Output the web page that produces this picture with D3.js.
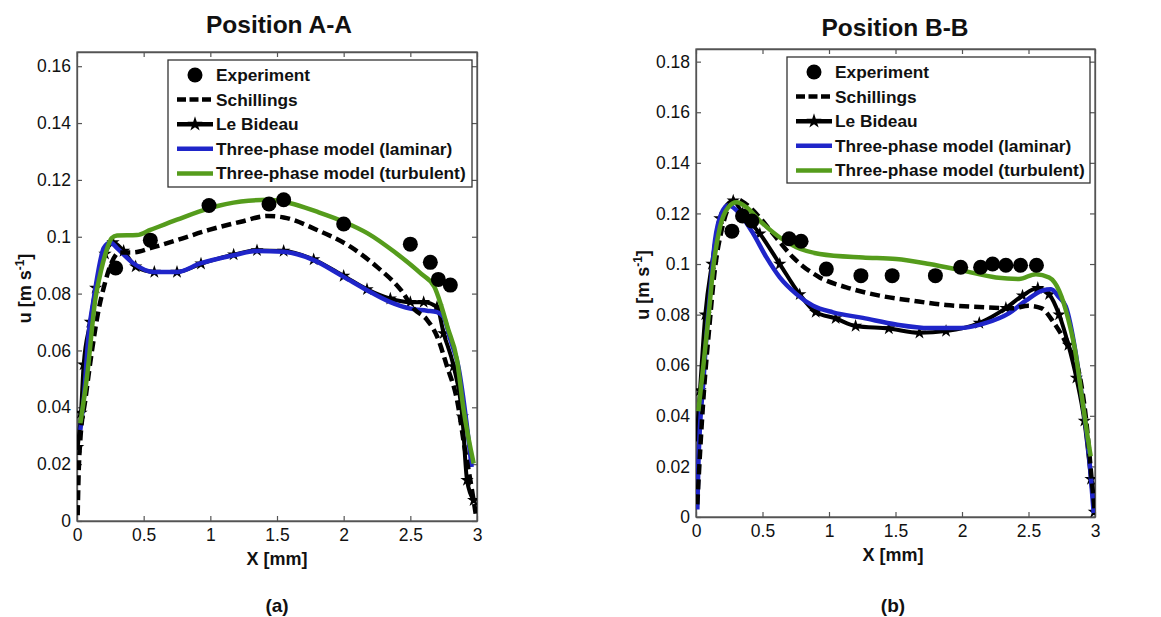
<!DOCTYPE html>
<html>
<head>
<meta charset="utf-8">
<script src="https://cdn.jsdelivr.net/npm/d3@7.9.0/dist/d3.min.js"></script>
<style>
  body { margin: 0; background: #fff; }
  svg text { font-family: "Liberation Sans", Arial, sans-serif; fill: #111; }
</style>
</head>
<body>
<svg id="chart" width="1161" height="617"></svg>
<script>
// ---- data ----
// Position A-A
const expA = [[0.29,0.089],[0.55,0.0988],[0.99,0.111],[1.44,0.1115],[1.55,0.113],[2.0,0.1045],[2.5,0.0974],[2.65,0.091],[2.71,0.085],[2.8,0.083]];
const schA = [[0.005,0.002],[0.0125,0.017],[0.025,0.0285],[0.0625,0.0426],[0.1125,0.06],[0.1625,0.0744],[0.2,0.082],[0.26,0.091],[0.32,0.0945],[0.42,0.0945],[0.55,0.096],[0.75,0.0988],[0.99,0.1024],[1.23,0.1053],[1.43,0.1073],[1.55,0.1068],[1.8,0.1024],[2.05,0.0965],[2.25,0.0894],[2.43,0.0812],[2.53,0.0745],[2.625,0.0708],[2.7,0.065],[2.775,0.0544],[2.85,0.0426],[2.91,0.025],[2.95,0.0144],[2.99,0.0026]];
const bidA = [[0.005,0.026],[0.03,0.038],[0.05,0.055],[0.1,0.07],[0.14,0.082],[0.21,0.094],[0.27,0.098],[0.35,0.095],[0.44,0.0895],[0.58,0.0876],[0.75,0.0876],[0.93,0.0905],[1.175,0.0937],[1.35,0.0952],[1.55,0.095],[1.775,0.092],[2.0,0.0862],[2.175,0.0815],[2.35,0.0782],[2.5,0.077],[2.6,0.077],[2.7,0.0753],[2.75,0.066],[2.825,0.0544],[2.89,0.0367],[2.925,0.0144],[2.975,0.0073]];
const lamA = [[0.025,0.032],[0.05,0.0426],[0.0875,0.066],[0.125,0.078],[0.16,0.088],[0.2,0.096],[0.25,0.098],[0.3,0.096],[0.425,0.0906],[0.575,0.0876],[0.75,0.0876],[0.925,0.0906],[1.175,0.0935],[1.35,0.095],[1.55,0.0947],[1.775,0.0918],[2.0,0.0859],[2.175,0.0812],[2.35,0.077],[2.5,0.0747],[2.625,0.074],[2.7,0.0735],[2.75,0.0718],[2.8,0.0638],[2.86,0.0544],[2.925,0.0332],[2.96,0.019]];
const turA = [[0.025,0.0344],[0.075,0.0508],[0.1375,0.078],[0.18,0.088],[0.22,0.095],[0.26,0.0995],[0.3,0.1004],[0.45,0.1006],[0.55,0.1024],[0.75,0.106],[0.99,0.11],[1.23,0.1124],[1.43,0.113],[1.6,0.1118],[1.8,0.1088],[2.0,0.1053],[2.18,0.1012],[2.38,0.0947],[2.58,0.087],[2.68,0.0824],[2.73,0.076],[2.78,0.068],[2.85,0.0567],[2.9,0.039],[2.975,0.0202]];

// Position B-B
const expB = [[0.27,0.113],[0.35,0.119],[0.42,0.117],[0.7,0.11],[0.79,0.109],[0.98,0.098],[1.24,0.0954],[1.475,0.0954],[1.8,0.0954],[1.99,0.0987],[2.14,0.0987],[2.23,0.1],[2.33,0.0995],[2.44,0.0995],[2.56,0.0995]];
const schB = [[0.01,0.005],[0.03,0.025],[0.06,0.05],[0.1,0.075],[0.14,0.097],[0.2,0.115],[0.25,0.123],[0.305,0.1257],[0.38,0.1235],[0.455,0.1198],[0.58,0.1119],[0.73,0.1026],[0.93,0.0947],[1.13,0.0908],[1.38,0.0875],[1.63,0.0855],[1.88,0.0838],[2.13,0.083],[2.38,0.0825],[2.5,0.0835],[2.6,0.0825],[2.68,0.0776],[2.78,0.069],[2.88,0.057],[2.93,0.04],[2.98,0.012],[3.0,0.001]];
const bidB = [[0.005,0.031],[0.03,0.05],[0.07,0.08],[0.12,0.1],[0.18,0.118],[0.28,0.125],[0.35,0.12],[0.48,0.112],[0.63,0.1],[0.78,0.088],[0.9,0.081],[1.05,0.0785],[1.2,0.0755],[1.45,0.0745],[1.68,0.0728],[1.88,0.0735],[2.13,0.0767],[2.33,0.0826],[2.455,0.0875],[2.57,0.0905],[2.655,0.088],[2.73,0.08],[2.8,0.068],[2.86,0.055],[2.92,0.038],[2.97,0.015],[2.995,0.002]];
const lamB = [[0.01,0.003],[0.0175,0.02],[0.03,0.0358],[0.055,0.053],[0.08,0.0727],[0.105,0.088],[0.1425,0.1092],[0.19,0.1198],[0.2425,0.1232],[0.33,0.1198],[0.43,0.112],[0.53,0.1026],[0.63,0.0947],[0.755,0.0881],[0.88,0.0835],[1.03,0.0809],[1.255,0.0787],[1.505,0.0761],[1.755,0.0747],[1.995,0.0747],[2.18,0.0767],[2.355,0.0806],[2.48,0.0855],[2.605,0.0895],[2.67,0.09],[2.73,0.0868],[2.78,0.0833],[2.855,0.0648],[2.905,0.0464],[2.955,0.024],[2.99,0.0016]];
const turB = [[0.0175,0.0418],[0.055,0.0596],[0.0925,0.0785],[0.13,0.0987],[0.18,0.1145],[0.2425,0.1224],[0.305,0.1244],[0.38,0.1224],[0.48,0.1171],[0.63,0.1105],[0.755,0.1066],[0.93,0.104],[1.255,0.1026],[1.505,0.102],[1.755,0.1],[2.005,0.0974],[2.255,0.0947],[2.43,0.0941],[2.555,0.096],[2.655,0.0947],[2.73,0.0895],[2.8,0.078],[2.85,0.066],[2.9,0.048],[2.94,0.0332],[2.9675,0.024]];

const xTicks = [0, 0.5, 1, 1.5, 2, 2.5, 3];
const yTicksA = [0, 0.02, 0.04, 0.06, 0.08, 0.1, 0.12, 0.14, 0.16];
const yTicksB = [0, 0.02, 0.04, 0.06, 0.08, 0.1, 0.12, 0.14, 0.16, 0.18];
const legendLabels = ['Experiment', 'Schillings', 'Le Bideau', 'Three-phase model (laminar)', 'Three-phase model (turbulent)'];

const BLUE = '#1f25c9', GREEN = '#559c1c';
const svg = d3.select('#chart');
const fmt = d => String(+d.toFixed(2));

function panel(o) {
  const x = d3.scaleLinear().domain([0, 3]).range([o.left, o.right]);
  const y = d3.scaleLinear().domain([0, o.ymax]).range([o.bottom, o.top]);
  const g = svg.append('g');

  g.append('clipPath').attr('id', o.id).append('rect')
    .attr('x', o.left).attr('y', o.top)
    .attr('width', o.right - o.left).attr('height', o.bottom - o.top);

  // axes, ticks pointing inward on all four sides
  g.append('g').attr('transform', `translate(0,${o.bottom})`)
    .call(d3.axisBottom(x).tickValues(xTicks).tickFormat(fmt).tickSizeInner(-5).tickSizeOuter(0).tickPadding(8));
  g.append('g').attr('transform', `translate(0,${o.top})`)
    .call(d3.axisTop(x).tickValues(xTicks).tickFormat('').tickSizeInner(-5).tickSizeOuter(0));
  g.append('g').attr('transform', `translate(${o.left},0)`)
    .call(d3.axisLeft(y).tickValues(o.yTicks).tickFormat(fmt).tickSizeInner(-5).tickSizeOuter(0).tickPadding(6));
  g.append('g').attr('transform', `translate(${o.right},0)`)
    .call(d3.axisRight(y).tickValues(o.yTicks).tickFormat('').tickSizeInner(-5).tickSizeOuter(0));
  g.selectAll('.domain').attr('stroke', '#555').attr('stroke-width', 1.3);
  g.selectAll('.tick line').attr('stroke', '#555').attr('stroke-width', 1.2);
  g.selectAll('.tick text').attr('font-size', 17.5).attr('fill', '#111');
  g.append('rect').attr('x', o.left).attr('y', o.top)
    .attr('width', o.right - o.left).attr('height', o.bottom - o.top)
    .attr('fill', 'none').attr('stroke', '#555').attr('stroke-width', 1.3);

  const line = d3.line().x(d => x(d[0])).y(d => y(d[1])).curve(d3.curveMonotoneX);
  const plot = g.append('g').attr('clip-path', `url(#${o.id})`);

  plot.append('path').attr('d', line(o.bid)).attr('fill', 'none')
    .attr('stroke', '#000').attr('stroke-width', 4);
  plot.selectAll('.bm').data(o.bid).join('path')
    .attr('transform', d => `translate(${x(d[0])},${y(d[1])})`)
    .attr('d', d3.symbol(d3.symbolStar, 55)).attr('fill', '#000');
  plot.append('path').attr('d', line(o.lam)).attr('fill', 'none')
    .attr('stroke', BLUE).attr('stroke-width', 4.5);
  plot.append('path').attr('d', line(o.sch)).attr('fill', 'none')
    .attr('stroke', '#000').attr('stroke-width', 4.5).attr('stroke-dasharray', '10,5');
  plot.append('path').attr('d', line(o.tur)).attr('fill', 'none')
    .attr('stroke', GREEN).attr('stroke-width', 4.5);
  plot.selectAll('.ex').data(o.exp).join('circle')
    .attr('cx', d => x(d[0])).attr('cy', d => y(d[1])).attr('r', 7.5).attr('fill', '#000');

  // titles and labels
  g.append('text').attr('x', o.cx).attr('y', o.titleY).attr('text-anchor', 'middle')
    .attr('font-size', 24.5).attr('font-weight', 'bold').text(o.title);
  g.append('text').attr('x', o.cx - 2).attr('y', o.bottom + 44).attr('text-anchor', 'middle')
    .attr('font-size', 18).attr('font-weight', 'bold').text('X [mm]');
  g.append('text').attr('x', o.cx - 2).attr('y', 612).attr('text-anchor', 'middle')
    .attr('font-size', 19).attr('font-weight', 'bold').text(o.tag);
  const yl = g.append('text')
    .attr('transform', `translate(${o.ylabX},${(o.top + o.bottom) / 2 + 2}) rotate(-90)`)
    .attr('text-anchor', 'middle').attr('font-size', 18).attr('font-weight', 'bold');
  yl.append('tspan').text('u [m s');
  yl.append('tspan').attr('font-size', 12).attr('dy', -7).text('-1');
  yl.append('tspan').attr('dy', 7).text(']');

  // legend
  const L = o.legend;
  g.append('rect').attr('x', L.x).attr('y', L.y).attr('width', L.w).attr('height', L.h)
    .attr('fill', '#fff').attr('stroke', '#333').attr('stroke-width', 1.3);
  const rowY = i => L.y + 15 + i * 24.6;
  const lx0 = L.x + 9, lx1 = L.x + 45;
  g.append('circle').attr('cx', (lx0 + lx1) / 2).attr('cy', rowY(0)).attr('r', 7.5).attr('fill', '#000');
  g.append('line').attr('x1', lx0).attr('x2', lx1).attr('y1', rowY(1)).attr('y2', rowY(1))
    .attr('stroke', '#000').attr('stroke-width', 4.5).attr('stroke-dasharray', '9,3.5');
  g.append('line').attr('x1', lx0).attr('x2', lx1).attr('y1', rowY(2)).attr('y2', rowY(2))
    .attr('stroke', '#000').attr('stroke-width', 4.5);
  g.append('path').attr('transform', `translate(${(lx0 + lx1) / 2},${rowY(2)})`)
    .attr('d', d3.symbol(d3.symbolStar, 70)).attr('fill', '#000');
  g.append('line').attr('x1', lx0).attr('x2', lx1).attr('y1', rowY(3)).attr('y2', rowY(3))
    .attr('stroke', BLUE).attr('stroke-width', 4.5);
  g.append('line').attr('x1', lx0).attr('x2', lx1).attr('y1', rowY(4)).attr('y2', rowY(4))
    .attr('stroke', GREEN).attr('stroke-width', 4.5);
  legendLabels.forEach((t, i) => {
    g.append('text').attr('x', lx1 + 3).attr('y', rowY(i) + 6)
      .attr('font-size', 17.3).attr('font-weight', 'bold').text(t);
  });
}

panel({
  id: 'clipA', left: 77, right: 477, top: 52, bottom: 521, ymax: 0.165, yTicks: yTicksA,
  exp: expA, sch: schA, bid: bidA, lam: lamA, tur: turA,
  title: 'Position A-A', titleY: 33, cx: 279, tag: '(a)', ylabX: 31,
  legend: { x: 168, y: 60, w: 304, h: 127 }
});
panel({
  id: 'clipB', left: 696, right: 1095, top: 49, bottom: 517, ymax: 0.185, yTicks: yTicksB,
  exp: expB, sch: schB, bid: bidB, lam: lamB, tur: turB,
  title: 'Position B-B', titleY: 36, cx: 895, tag: '(b)', ylabX: 649,
  legend: { x: 787, y: 57, w: 303, h: 126 }
});
</script>
</body>
</html>
